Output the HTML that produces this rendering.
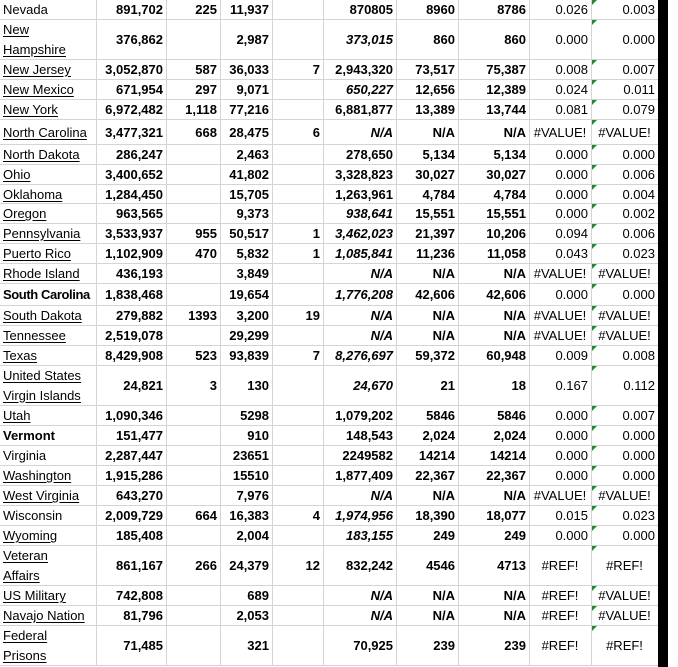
<!DOCTYPE html>
<html><head><meta charset="utf-8"><style>
html,body{margin:0;padding:0;background:#fff;}
body{width:678px;height:667px;position:relative;overflow:hidden;font-family:"Liberation Sans",Arial,sans-serif;font-size:13px;color:#000;}
.r{position:absolute;left:0;width:658px;border-bottom:1px solid #d4d4d4;box-sizing:border-box;}
.c{position:absolute;top:0;bottom:0;display:flex;align-items:center;justify-content:flex-end;padding-right:3px;box-sizing:border-box;font-weight:bold;white-space:nowrap;}
.k1{left:0;width:96px;justify-content:flex-start;padding-left:3px;font-weight:normal;}
.k2{left:96px;width:70px;}
.k3{left:166px;width:54px;}
.k4{left:220px;width:52px;}
.k5{left:272px;width:51px;}
.k6{left:323px;width:73px;}
.k7{left:396px;width:62px;}
.k8{left:458px;width:71px;}
.k9{left:529px;width:62px;font-weight:normal;}
.k10{left:591px;width:67px;font-weight:normal;}
.k10::before{content:"";position:absolute;left:1px;top:0;border-top:5px solid #1e8c2e;border-right:5px solid transparent;}
.it{font-style:italic;}
.ce{justify-content:center;padding-right:0;}
.u span,.u{text-decoration:underline;text-underline-offset:2px;}
.bo{font-weight:bold;}
.two{line-height:20px;display:block;padding-top:0;}
.v{position:absolute;top:0;height:665px;width:1px;background:#d4d4d4;}
.blk{position:absolute;left:658px;top:0;width:10px;height:667px;background:#000;}
</style></head><body>
<div class="v" style="left:96px"></div><div class="v" style="left:166px"></div><div class="v" style="left:220px"></div><div class="v" style="left:272px"></div><div class="v" style="left:323px"></div><div class="v" style="left:396px"></div><div class="v" style="left:458px"></div><div class="v" style="left:529px"></div><div class="v" style="left:591px"></div>

<div class="r" style="top:0;height:20px"><div class="c k1">Nevada</div><div class="c k2">891,702</div><div class="c k3">225</div><div class="c k4">11,937</div><div class="c k5"></div><div class="c k6">870805</div><div class="c k7">8960</div><div class="c k8">8786</div><div class="c k9">0.026</div><div class="c k10">0.003</div></div>
<div class="r" style="top:20px;height:40px"><div class="c k1 u"><div class="two"><span>New </span><br><span>Hampshire</span></div></div><div class="c k2">376,862</div><div class="c k3"></div><div class="c k4">2,987</div><div class="c k5"></div><div class="c k6 it">373,015</div><div class="c k7">860</div><div class="c k8">860</div><div class="c k9">0.000</div><div class="c k10">0.000</div></div>
<div class="r" style="top:60px;height:20px"><div class="c k1 u">New Jersey</div><div class="c k2">3,052,870</div><div class="c k3">587</div><div class="c k4">36,033</div><div class="c k5">7</div><div class="c k6">2,943,320</div><div class="c k7">73,517</div><div class="c k8">75,387</div><div class="c k9">0.008</div><div class="c k10">0.007</div></div>
<div class="r" style="top:80px;height:20px"><div class="c k1 u">New Mexico</div><div class="c k2">671,954</div><div class="c k3">297</div><div class="c k4">9,071</div><div class="c k5"></div><div class="c k6 it">650,227</div><div class="c k7">12,656</div><div class="c k8">12,389</div><div class="c k9">0.024</div><div class="c k10">0.011</div></div>
<div class="r" style="top:100px;height:20px"><div class="c k1 u">New York</div><div class="c k2">6,972,482</div><div class="c k3">1,118</div><div class="c k4">77,216</div><div class="c k5"></div><div class="c k6">6,881,877</div><div class="c k7">13,389</div><div class="c k8">13,744</div><div class="c k9">0.081</div><div class="c k10">0.079</div></div>
<div class="r" style="top:120px;height:25px"><div class="c k1 u">North Carolina</div><div class="c k2">3,477,321</div><div class="c k3">668</div><div class="c k4">28,475</div><div class="c k5">6</div><div class="c k6 it">N/A</div><div class="c k7">N/A</div><div class="c k8">N/A</div><div class="c k9 ce">#VALUE!</div><div class="c k10 ce">#VALUE!</div></div>
<div class="r" style="top:145px;height:20px"><div class="c k1 u">North Dakota</div><div class="c k2">286,247</div><div class="c k3"></div><div class="c k4">2,463</div><div class="c k5"></div><div class="c k6">278,650</div><div class="c k7">5,134</div><div class="c k8">5,134</div><div class="c k9">0.000</div><div class="c k10">0.000</div></div>
<div class="r" style="top:165px;height:20px"><div class="c k1 u">Ohio</div><div class="c k2">3,400,652</div><div class="c k3"></div><div class="c k4">41,802</div><div class="c k5"></div><div class="c k6">3,328,823</div><div class="c k7">30,027</div><div class="c k8">30,027</div><div class="c k9">0.000</div><div class="c k10">0.006</div></div>
<div class="r" style="top:185px;height:19px"><div class="c k1 u">Oklahoma</div><div class="c k2">1,284,450</div><div class="c k3"></div><div class="c k4">15,705</div><div class="c k5"></div><div class="c k6">1,263,961</div><div class="c k7">4,784</div><div class="c k8">4,784</div><div class="c k9">0.000</div><div class="c k10">0.004</div></div>
<div class="r" style="top:204px;height:20px"><div class="c k1 u">Oregon</div><div class="c k2">963,565</div><div class="c k3"></div><div class="c k4">9,373</div><div class="c k5"></div><div class="c k6 it">938,641</div><div class="c k7">15,551</div><div class="c k8">15,551</div><div class="c k9">0.000</div><div class="c k10">0.002</div></div>
<div class="r" style="top:224px;height:20px"><div class="c k1 u">Pennsylvania</div><div class="c k2">3,533,937</div><div class="c k3">955</div><div class="c k4">50,517</div><div class="c k5">1</div><div class="c k6 it">3,462,023</div><div class="c k7">21,397</div><div class="c k8">10,206</div><div class="c k9">0.094</div><div class="c k10">0.006</div></div>
<div class="r" style="top:244px;height:20px"><div class="c k1 u">Puerto Rico</div><div class="c k2">1,102,909</div><div class="c k3">470</div><div class="c k4">5,832</div><div class="c k5">1</div><div class="c k6 it">1,085,841</div><div class="c k7">11,236</div><div class="c k8">11,058</div><div class="c k9">0.043</div><div class="c k10">0.023</div></div>
<div class="r" style="top:264px;height:20px"><div class="c k1 u">Rhode Island</div><div class="c k2">436,193</div><div class="c k3"></div><div class="c k4">3,849</div><div class="c k5"></div><div class="c k6 it">N/A</div><div class="c k7">N/A</div><div class="c k8">N/A</div><div class="c k9 ce">#VALUE!</div><div class="c k10 ce">#VALUE!</div></div>
<div class="r" style="top:284px;height:22px"><div class="c k1 bo" style="letter-spacing:-0.4px">South Carolina</div><div class="c k2">1,838,468</div><div class="c k3"></div><div class="c k4">19,654</div><div class="c k5"></div><div class="c k6 it">1,776,208</div><div class="c k7">42,606</div><div class="c k8">42,606</div><div class="c k9">0.000</div><div class="c k10">0.000</div></div>
<div class="r" style="top:306px;height:20px"><div class="c k1 u">South Dakota</div><div class="c k2">279,882</div><div class="c k3">1393</div><div class="c k4">3,200</div><div class="c k5">19</div><div class="c k6 it">N/A</div><div class="c k7">N/A</div><div class="c k8">N/A</div><div class="c k9 ce">#VALUE!</div><div class="c k10 ce">#VALUE!</div></div>
<div class="r" style="top:326px;height:20px"><div class="c k1 u">Tennessee</div><div class="c k2">2,519,078</div><div class="c k3"></div><div class="c k4">29,299</div><div class="c k5"></div><div class="c k6 it">N/A</div><div class="c k7">N/A</div><div class="c k8">N/A</div><div class="c k9 ce">#VALUE!</div><div class="c k10 ce">#VALUE!</div></div>
<div class="r" style="top:346px;height:20px"><div class="c k1 u">Texas</div><div class="c k2">8,429,908</div><div class="c k3">523</div><div class="c k4">93,839</div><div class="c k5">7</div><div class="c k6 it">8,276,697</div><div class="c k7">59,372</div><div class="c k8">60,948</div><div class="c k9">0.009</div><div class="c k10">0.008</div></div>
<div class="r" style="top:366px;height:40px"><div class="c k1 u"><div class="two"><span>United States </span><br><span>Virgin Islands</span></div></div><div class="c k2">24,821</div><div class="c k3">3</div><div class="c k4">130</div><div class="c k5"></div><div class="c k6 it">24,670</div><div class="c k7">21</div><div class="c k8">18</div><div class="c k9">0.167</div><div class="c k10">0.112</div></div>
<div class="r" style="top:406px;height:20px"><div class="c k1 u">Utah</div><div class="c k2">1,090,346</div><div class="c k3"></div><div class="c k4">5298</div><div class="c k5"></div><div class="c k6">1,079,202</div><div class="c k7">5846</div><div class="c k8">5846</div><div class="c k9">0.000</div><div class="c k10">0.007</div></div>
<div class="r" style="top:426px;height:20px"><div class="c k1 bo">Vermont</div><div class="c k2">151,477</div><div class="c k3"></div><div class="c k4">910</div><div class="c k5"></div><div class="c k6">148,543</div><div class="c k7">2,024</div><div class="c k8">2,024</div><div class="c k9">0.000</div><div class="c k10">0.000</div></div>
<div class="r" style="top:446px;height:20px"><div class="c k1">Virginia</div><div class="c k2">2,287,447</div><div class="c k3"></div><div class="c k4">23651</div><div class="c k5"></div><div class="c k6">2249582</div><div class="c k7">14214</div><div class="c k8">14214</div><div class="c k9">0.000</div><div class="c k10">0.000</div></div>
<div class="r" style="top:466px;height:20px"><div class="c k1 u">Washington</div><div class="c k2">1,915,286</div><div class="c k3"></div><div class="c k4">15510</div><div class="c k5"></div><div class="c k6">1,877,409</div><div class="c k7">22,367</div><div class="c k8">22,367</div><div class="c k9">0.000</div><div class="c k10">0.000</div></div>
<div class="r" style="top:486px;height:20px"><div class="c k1 u">West Virginia</div><div class="c k2">643,270</div><div class="c k3"></div><div class="c k4">7,976</div><div class="c k5"></div><div class="c k6 it">N/A</div><div class="c k7">N/A</div><div class="c k8">N/A</div><div class="c k9 ce">#VALUE!</div><div class="c k10 ce">#VALUE!</div></div>
<div class="r" style="top:506px;height:20px"><div class="c k1">Wisconsin</div><div class="c k2">2,009,729</div><div class="c k3">664</div><div class="c k4">16,383</div><div class="c k5">4</div><div class="c k6 it">1,974,956</div><div class="c k7">18,390</div><div class="c k8">18,077</div><div class="c k9">0.015</div><div class="c k10">0.023</div></div>
<div class="r" style="top:526px;height:20px"><div class="c k1 u">Wyoming</div><div class="c k2">185,408</div><div class="c k3"></div><div class="c k4">2,004</div><div class="c k5"></div><div class="c k6 it">183,155</div><div class="c k7">249</div><div class="c k8">249</div><div class="c k9">0.000</div><div class="c k10">0.000</div></div>
<div class="r" style="top:546px;height:40px"><div class="c k1 u"><div class="two"><span>Veteran </span><br><span>Affairs</span></div></div><div class="c k2">861,167</div><div class="c k3">266</div><div class="c k4">24,379</div><div class="c k5">12</div><div class="c k6">832,242</div><div class="c k7">4546</div><div class="c k8">4713</div><div class="c k9 ce">#REF!</div><div class="c k10 ce">#REF!</div></div>
<div class="r" style="top:586px;height:20px"><div class="c k1 u">US Military</div><div class="c k2">742,808</div><div class="c k3"></div><div class="c k4">689</div><div class="c k5"></div><div class="c k6 it">N/A</div><div class="c k7">N/A</div><div class="c k8">N/A</div><div class="c k9 ce">#REF!</div><div class="c k10 ce">#VALUE!</div></div>
<div class="r" style="top:606px;height:20px"><div class="c k1 u">Navajo Nation</div><div class="c k2">81,796</div><div class="c k3"></div><div class="c k4">2,053</div><div class="c k5"></div><div class="c k6 it">N/A</div><div class="c k7">N/A</div><div class="c k8">N/A</div><div class="c k9 ce">#REF!</div><div class="c k10 ce">#VALUE!</div></div>
<div class="r" style="top:626px;height:40px"><div class="c k1 u"><div class="two"><span>Federal </span><br><span>Prisons</span></div></div><div class="c k2">71,485</div><div class="c k3"></div><div class="c k4">321</div><div class="c k5"></div><div class="c k6">70,925</div><div class="c k7">239</div><div class="c k8">239</div><div class="c k9 ce">#REF!</div><div class="c k10 ce">#REF!</div></div>

<div class="blk"></div>
</body></html>
